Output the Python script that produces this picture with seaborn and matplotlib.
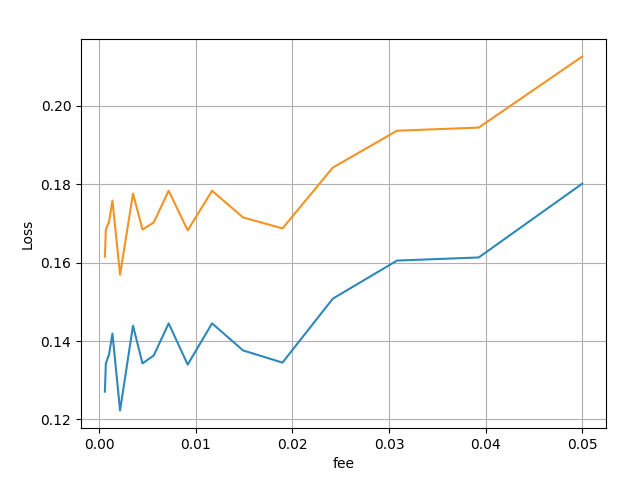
import pandas as pd
import seaborn as sns
from matplotlib import pyplot as plt

fee = [0.0006, 0.0007, 0.00103, 0.00138, 0.00217, 0.00351, 0.00449, 0.00565,
       0.0072, 0.00917, 0.01169, 0.0149, 0.01898, 0.02419, 0.03083, 0.03929, 0.05]
loss_a = [0.1271, 0.1343, 0.1366, 0.1419, 0.1223, 0.1439, 0.1343, 0.1363,
          0.1445, 0.1340, 0.1445, 0.1376, 0.1345, 0.1508, 0.1605, 0.1613, 0.1801]
loss_b = [0.1615, 0.1684, 0.1704, 0.1758, 0.1569, 0.1776, 0.1684, 0.1702,
          0.1783, 0.1682, 0.1783, 0.1715, 0.1687, 0.1842, 0.1936, 0.1944, 0.2125]

df = pd.concat([
    pd.DataFrame({'fee': fee, 'Loss': loss_a, 'serie': 'a'}),
    pd.DataFrame({'fee': fee, 'Loss': loss_b, 'serie': 'b'}),
])

fig, ax = plt.subplots(figsize=(6.4, 4.8), dpi=100)
sns.lineplot(data=df, x='fee', y='Loss', hue='serie',
             palette=['#2e88ba', '#f39322'], linewidth=1.5, legend=False, ax=ax)
ax.grid(True, color='#b0b0b0', linewidth=0.8)
ax.set_axisbelow(True)
ax.set_yticks([0.12, 0.14, 0.16, 0.18, 0.20])
fig.subplots_adjust(left=0.1266, right=0.947, top=0.919, bottom=0.108)
plt.savefig('out.png', dpi=100)
